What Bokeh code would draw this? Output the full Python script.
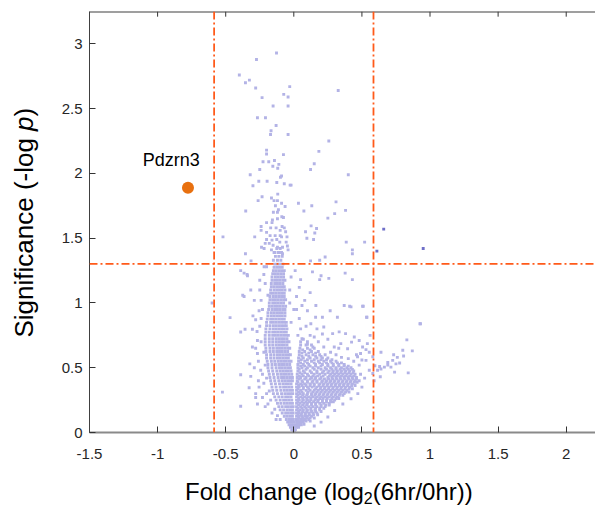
import math
from bokeh.plotting import figure
from bokeh.layouts import row, column
from bokeh.models import Span, FixedTicker, CustomJSTickFormatter, Range1d
from bokeh.core.properties import value
from bokeh.embed import file_html
from bokeh.resources import INLINE

FONT = "Liberation Sans"

# ---------------- data ----------------
fc_cut = 0.585      # log2(1.5)
p_cut = 1.301       # -log10(0.05)

x_ticks = [-1.5, -1, -0.5, 0, 0.5, 1, 1.5, 2]
y_ticks = [0, 0.5, 1, 1.5, 2, 2.5, 3]

x_title = ["Fold change (log", "2", "(6hr/0hr))"]
y_title = ["Significance (-log ", "p", ")"]

# dense body of the volcano, one row per significance level
dense_y = [0.0, 0.02, 0.04, 0.06, 0.08, 0.1, 0.125, 0.15, 0.175, 0.2, 0.225, 0.25, 0.275, 0.3,
           0.325, 0.35, 0.375, 0.4, 0.425, 0.45, 0.475, 0.5, 0.525, 0.55, 0.575, 0.6, 0.625,
           0.65, 0.675, 0.7, 0.725, 0.75, 0.775, 0.8, 0.825, 0.85, 0.875, 0.9, 0.925, 0.95,
           0.975, 1.0, 1.025, 1.05, 1.075, 1.1, 1.125, 1.15, 1.175, 1.2, 1.225, 1.25, 1.275,
           1.3, 1.33, 1.36, 1.39, 1.42]
dense_x = [
    [-0.005, 0.005],
    [-0.015, 0.0, 0.012],
    [-0.025, -0.01, 0.005, 0.02, 0.035],
    [-0.035, -0.02, -0.005, 0.01, 0.025, 0.04, 0.055],
    [-0.045, -0.03, -0.015, 0.0, 0.02, 0.035, 0.05, 0.07],
    [-0.055, -0.035, -0.02, -0.005, 0.015, 0.03, 0.05, 0.065, 0.085, 0.11],
    [-0.07, -0.05, -0.03, -0.01, 0.02, 0.04, 0.06, 0.08, 0.1, 0.13],
    [-0.085, -0.06, -0.04, -0.02, -0.005, 0.02, 0.04, 0.06, 0.085, 0.11, 0.14, 0.17],
    [-0.1, -0.075, -0.05, -0.03, -0.01, 0.02, 0.045, 0.07, 0.1, 0.125, 0.155, 0.19],
    [-0.11, -0.085, -0.06, -0.04, -0.02, -0.005, 0.02, 0.05, 0.08, 0.11, 0.14, 0.17, 0.2, 0.23],
    [-0.12, -0.095, -0.07, -0.05, -0.03, -0.01, 0.02, 0.045, 0.075, 0.1, 0.13, 0.16, 0.19, 0.22, 0.26],
    [-0.13, -0.1, -0.075, -0.055, -0.035, -0.015, 0.02, 0.04, 0.07, 0.1, 0.125, 0.155, 0.18, 0.21, 0.24, 0.27, 0.3],
    [-0.14, -0.11, -0.085, -0.06, -0.04, -0.02, 0.02, 0.05, 0.08, 0.11, 0.14, 0.17, 0.2, 0.23, 0.26, 0.29, 0.32],
    [-0.15, -0.12, -0.09, -0.065, -0.045, -0.025, -0.008, 0.02, 0.045, 0.07, 0.1, 0.13, 0.16, 0.19, 0.22, 0.25, 0.28, 0.31, 0.34, 0.37],
    [-0.155, -0.125, -0.095, -0.07, -0.05, -0.03, -0.01, 0.02, 0.05, 0.09, 0.12, 0.15, 0.18, 0.21, 0.24, 0.27, 0.3, 0.33, 0.36, 0.39],
    [-0.16, -0.13, -0.1, -0.075, -0.055, -0.035, -0.015, 0.02, 0.04, 0.07, 0.1, 0.135, 0.17, 0.2, 0.23, 0.26, 0.29, 0.32, 0.35, 0.38, 0.41],
    [-0.165, -0.135, -0.105, -0.08, -0.06, -0.04, -0.02, 0.02, 0.05, 0.08, 0.12, 0.15, 0.19, 0.22, 0.25, 0.28, 0.31, 0.34, 0.37, 0.4, 0.43],
    [-0.17, -0.14, -0.11, -0.085, -0.065, -0.045, -0.025, -0.01, 0.025, 0.06, 0.1, 0.14, 0.17, 0.21, 0.24, 0.27, 0.3, 0.33, 0.36, 0.39, 0.42, 0.45],
    [-0.175, -0.145, -0.115, -0.09, -0.07, -0.05, -0.03, -0.01, 0.025, 0.05, 0.09, 0.13, 0.16, 0.2, 0.25, 0.28, 0.31, 0.34, 0.37, 0.4, 0.43, 0.46],
    [-0.18, -0.15, -0.12, -0.095, -0.075, -0.055, -0.035, -0.015, 0.025, 0.06, 0.1, 0.15, 0.19, 0.23, 0.27, 0.3, 0.33, 0.36, 0.39, 0.42, 0.45],
    [-0.185, -0.155, -0.125, -0.1, -0.08, -0.06, -0.04, -0.02, 0.03, 0.07, 0.12, 0.17, 0.22, 0.26, 0.29, 0.32, 0.35, 0.38, 0.41, 0.44],
    [-0.19, -0.16, -0.13, -0.105, -0.085, -0.065, -0.045, -0.025, 0.03, 0.06, 0.1, 0.14, 0.18, 0.23, 0.27, 0.31, 0.35, 0.39, 0.42],
    [-0.19, -0.16, -0.135, -0.11, -0.09, -0.07, -0.05, -0.03, 0.03, 0.07, 0.11, 0.16, 0.21, 0.25, 0.29, 0.33, 0.37],
    [-0.195, -0.165, -0.14, -0.115, -0.095, -0.075, -0.055, -0.035, -0.02, 0.035, 0.08, 0.13, 0.18, 0.22, 0.27, 0.31],
    [-0.2, -0.17, -0.145, -0.12, -0.1, -0.08, -0.06, -0.04, 0.035, 0.07, 0.12, 0.17, 0.21, 0.25],
    [-0.2, -0.17, -0.145, -0.12, -0.1, -0.08, -0.06, -0.04, -0.025, 0.04, 0.09, 0.14, 0.19, 0.23],
    [-0.205, -0.175, -0.15, -0.125, -0.105, -0.085, -0.065, -0.045, 0.04, 0.08, 0.13, 0.18],
    [-0.205, -0.175, -0.15, -0.125, -0.105, -0.085, -0.065, -0.045, -0.03, 0.045, 0.1, 0.15],
    [-0.21, -0.18, -0.155, -0.13, -0.11, -0.09, -0.07, -0.05, 0.05, 0.09, 0.13],
    [-0.21, -0.18, -0.155, -0.13, -0.11, -0.09, -0.07, -0.05, -0.035, 0.05, 0.1],
    [-0.21, -0.18, -0.155, -0.13, -0.11, -0.09, -0.07, -0.05, 0.06],
    [-0.21, -0.18, -0.155, -0.135, -0.115, -0.095, -0.075, -0.055, -0.04],
    [-0.205, -0.18, -0.155, -0.135, -0.115, -0.095, -0.075, -0.055],
    [-0.205, -0.175, -0.15, -0.13, -0.11, -0.09, -0.07, -0.05],
    [-0.2, -0.175, -0.15, -0.13, -0.11, -0.09, -0.07, -0.055],
    [-0.2, -0.17, -0.15, -0.13, -0.11, -0.09, -0.07, -0.055],
    [-0.195, -0.17, -0.15, -0.13, -0.11, -0.09, -0.07],
    [-0.19, -0.165, -0.145, -0.125, -0.105, -0.085, -0.065],
    [-0.19, -0.165, -0.145, -0.125, -0.105, -0.085, -0.065],
    [-0.185, -0.16, -0.14, -0.12, -0.1, -0.08, -0.065],
    [-0.18, -0.16, -0.14, -0.12, -0.1, -0.08, -0.06],
    [-0.18, -0.155, -0.135, -0.115, -0.095, -0.075],
    [-0.175, -0.155, -0.135, -0.115, -0.095, -0.075, -0.06],
    [-0.175, -0.15, -0.13, -0.11, -0.09, -0.07],
    [-0.17, -0.15, -0.13, -0.11, -0.09, -0.07],
    [-0.17, -0.145, -0.125, -0.105, -0.085, -0.065],
    [-0.165, -0.145, -0.125, -0.105, -0.085, -0.07],
    [-0.165, -0.14, -0.12, -0.1, -0.08],
    [-0.16, -0.14, -0.12, -0.1, -0.08, -0.065],
    [-0.16, -0.135, -0.115, -0.095, -0.075],
    [-0.155, -0.135, -0.115, -0.095, -0.075],
    [-0.15, -0.13, -0.11, -0.09, -0.07],
    [-0.145, -0.125, -0.105, -0.085],
    [-0.14, -0.12, -0.1, -0.08],
    [-0.15, -0.12, -0.095],
    [-0.135, -0.11, -0.085],
    [-0.14, -0.115, -0.09],
    [-0.125, -0.1],
]

# in-between rows of the up-regulated (right) arm
arm_y = [0.0625, 0.0875, 0.1125, 0.1375, 0.1625, 0.1875, 0.2125, 0.2375, 0.2625, 0.2875,
         0.3125, 0.3375, 0.3625, 0.3875, 0.4125, 0.4375, 0.4625, 0.4875, 0.5125, 0.5375,
         0.5625, 0.5875, 0.6125, 0.6375]
arm_x = [
    [0.03, 0.05, 0.075],
    [0.03, 0.06, 0.09, 0.12],
    [0.035, 0.065, 0.095, 0.12, 0.15],
    [0.03, 0.055, 0.085, 0.115, 0.145, 0.175],
    [0.035, 0.065, 0.095, 0.13, 0.16, 0.2],
    [0.03, 0.06, 0.09, 0.125, 0.16, 0.19, 0.22],
    [0.035, 0.065, 0.095, 0.13, 0.16, 0.2, 0.235, 0.26],
    [0.03, 0.06, 0.09, 0.115, 0.145, 0.175, 0.21, 0.24, 0.27, 0.29],
    [0.035, 0.065, 0.095, 0.125, 0.16, 0.19, 0.215, 0.245, 0.28, 0.31, 0.33],
    [0.03, 0.065, 0.095, 0.13, 0.155, 0.185, 0.215, 0.245, 0.275, 0.305, 0.335, 0.36],
    [0.035, 0.06, 0.105, 0.14, 0.17, 0.2, 0.23, 0.26, 0.29, 0.32, 0.35, 0.38, 0.405],
    [0.03, 0.07, 0.11, 0.16, 0.195, 0.225, 0.255, 0.285, 0.315, 0.345, 0.375, 0.405, 0.43],
    [0.035, 0.06, 0.09, 0.12, 0.15, 0.185, 0.215, 0.245, 0.275, 0.305, 0.335, 0.365, 0.395, 0.425, 0.45],
    [0.03, 0.065, 0.1, 0.135, 0.17, 0.205, 0.235, 0.265, 0.295, 0.325, 0.355, 0.385, 0.415, 0.445, 0.465],
    [0.04, 0.08, 0.12, 0.155, 0.19, 0.225, 0.255, 0.285, 0.315, 0.345, 0.375, 0.405, 0.435, 0.46],
    [0.04, 0.07, 0.11, 0.14, 0.175, 0.215, 0.26, 0.29, 0.32, 0.35, 0.38, 0.41, 0.44],
    [0.045, 0.08, 0.13, 0.17, 0.21, 0.25, 0.285, 0.315, 0.345, 0.375, 0.405, 0.435],
    [0.04, 0.09, 0.15, 0.2, 0.24, 0.28, 0.31, 0.34, 0.37, 0.4, 0.43],
    [0.05, 0.08, 0.12, 0.16, 0.2, 0.25, 0.29, 0.33, 0.37, 0.4],
    [0.05, 0.1, 0.15, 0.19, 0.24, 0.28, 0.32, 0.35],
    [0.055, 0.1, 0.15, 0.2, 0.24, 0.28],
    [0.06, 0.11, 0.16, 0.2],
    [0.06, 0.11, 0.16],
    [0.065, 0.12],
]

# scattered proteins around the body
sparse_x = [
    -0.127, -0.274, -0.40, -0.355, -0.326, -0.28, -0.233, -0.152, -0.03, -0.074, -0.042, -0.042, 0.326,
    -0.267, -0.208, -0.13, -0.167, -0.171, -0.042, 0.257, 0.184, -0.20, -0.20, -0.076, -0.142, -0.184,
    -0.226, -0.11, -0.154, -0.118, 0.15, 0.123, -0.25, -0.32, -0.09, -0.098, 0.40, -0.257, -0.30, -0.196,
    -0.125, -0.07, -0.027, -0.02, -0.233, -0.262, -0.164, -0.118, -0.145, -0.12, -0.09, 0.034, 0.132, 0.31,
    -0.064, -0.135, -0.353, 0.074, -0.113, -0.12, -0.15, 0.38, 0.30, 0.25, -0.088, -0.076, -0.12, -0.157,
    -0.2, -0.16, 0.127, 0.167, -0.086, -0.07, -0.24, -0.17, -0.13, -0.1, -0.06, -0.2, -0.24, 0.086, 0.154,
    -0.174, -0.137, -0.1, -0.09, -0.05, -0.287, -0.52, 0.096, 0.145, -0.2, -0.16, -0.125, -0.103, -0.056,
    0.385, 0.52, -0.18, -0.21, -0.152, -0.12, -0.083, -0.237, -0.218, -0.047, -0.042, 0.43, -0.164, -0.145,
    -0.108, -0.083, -0.355, 0.43, 0.23, 0.19, 0.123, -0.314,
    -0.39, -0.343, -0.365, -0.34, -0.218, -0.25, -0.316, -0.375, -0.365, -0.29, -0.6, -0.255, -0.468, -0.28,
    -0.358, -0.304, -0.39, -0.267, -0.304, -0.267, -0.323, -0.243, -0.39, -0.316, -0.255, -0.328, -0.524,
    -0.28, -0.28, -0.267, -0.39,
    -0.23, -0.25, -0.24, -0.26, -0.23, -0.22, -0.2, -0.19, -0.16, -0.13, -0.25, -0.22, -0.21, -0.24, -0.22,
    -0.21, -0.2, -0.18, -0.27, -0.28, -0.24, -0.2, -0.19, -0.17, -0.14, -0.12, -0.1, -0.3, -0.29, -0.26,
    -0.23, -0.21,
    0.137, 0.377, 0.43, 0.20, 0.257, 0.05, 0.19,
    0.42, 0.51, 0.537, 0.162, 0.37, 0.41, 0.505, 0.10, 0.16, 0.21, 0.267, 0.32, 0.22, 0.285, 0.38, 0.444,
    0.424, 0.505, 0.53, 0.49, 0.554, 0.345, 0.297, 0.395, 0.333, 0.21, 0.15, 0.125, 0.58, 0.468, 0.534,
    0.48, 0.54, 0.53, 0.554,
    0.03, 0.05, 0.04, 0.07, 0.02, 0.06, 0.1, 0.12, 0.09, 0.14, 0.18, 0.17, 0.22, 0.25, 0.27, 0.31, 0.35,
    0.4, 0.33, 0.44, 0.48, 0.46, 0.5, 0.02, 0.04, 0.08, 0.12, -0.03, -0.02, 0.0, -0.02, -0.03, 0.01,
    0.56, 0.93, 0.83, 0.87, 0.80, 0.64, 0.806, 0.733, 0.76, 0.777, 0.75, 0.726, 0.713, 0.74, 0.84, 0.69,
    0.69, 0.665, 0.64, 0.615, 0.635, 0.595, 0.63, 0.58, 0.59, 0.926,
    0.2, 0.25, 0.3, 0.36, 0.42, 0.47, 0.15, 0.5, 0.52, 0.49, 0.48,
]
sparse_y = [
    2.93, 2.88, 2.76, 2.70, 2.72, 2.66, 2.585, 2.52, 2.67, 2.61, 2.59, 2.52, 2.64,
    2.43, 2.43, 2.37, 2.33, 2.30, 2.30, 2.25, 2.17, 2.18, 2.15, 2.145, 2.10, 2.09,
    2.09, 2.07, 2.055, 2.04, 2.075, 2.03, 2.03, 1.99, 1.98, 1.97, 1.99, 1.94, 1.905, 1.94,
    1.93, 1.92, 1.91, 1.91, 1.82, 1.79, 1.81, 1.84, 1.79, 1.79, 1.77, 1.77, 1.75, 1.78,
    1.745, 1.75, 1.71, 1.71, 1.72, 1.70, 1.70, 1.715, 1.69, 1.655, 1.665, 1.66, 1.65, 1.64,
    1.62, 1.62, 1.595, 1.575, 1.59, 1.58, 1.59, 1.58, 1.58, 1.56, 1.55, 1.545, 1.56, 1.55, 1.54,
    1.52, 1.52, 1.52, 1.51, 1.51, 1.51, 1.51, 1.50, 1.49, 1.49, 1.485, 1.49, 1.47, 1.47,
    1.47, 1.47, 1.46, 1.46, 1.446, 1.43, 1.43, 1.43, 1.42, 1.44, 1.41, 1.41, 1.41, 1.39,
    1.39, 1.38, 1.38, 1.38, 1.355, 1.33, 1.325, 1.325,
    1.25, 1.22, 1.23, 1.21, 1.28, 1.175, 1.1, 1.06, 1.05, 1.02, 1.0, 0.94, 0.887, 0.87,
    0.797, 0.797, 0.776, 0.71, 0.66, 0.61, 0.53, 0.48, 0.446, 0.433, 0.35, 0.346, 0.312,
    0.3, 0.27, 0.22, 0.203,
    0.95, 0.82, 0.7, 0.55, 0.45, 0.38, 0.3, 0.22, 0.15, 0.1, 1.1, 1.22, 1.15, 1.02, 0.62,
    0.52, 0.42, 0.32, 0.78, 0.65, 0.88, 1.28, 1.06, 0.25, 0.18, 0.13, 0.1, 0.9, 0.5, 0.4,
    0.27, 0.2,
    1.24, 1.23, 1.18, 1.21, 1.19, 1.18, 1.18,
    0.97, 0.975, 0.89, 0.98, 0.98, 0.975, 0.975, 0.94, 0.89, 0.89, 0.94, 0.89, 0.815, 0.763, 0.763, 0.737,
    0.698, 0.66, 0.64, 0.61, 0.62, 0.686, 0.66, 0.647, 0.777, 0.76, 0.737, 0.84, 0.585, 0.585, 0.89,
    0.71, 0.686, 0.557, 0.48,
    0.75, 0.8, 0.88, 0.72, 0.95, 0.98, 0.68, 0.75, 0.82, 0.66, 0.7, 0.8, 0.66, 0.72, 0.62, 0.6, 0.58,
    0.57, 0.65, 0.55, 0.52, 0.6, 0.56, 1.05, 1.12, 1.02, 1.08, 1.1, 1.2, 0.95, 0.85, 1.0, 1.25,
    0.75, 0.84, 0.715, 0.63, 0.635, 0.62, 0.59, 0.60, 0.58, 0.536, 0.53, 0.557, 0.505, 0.466, 0.46, 0.54,
    0.52, 0.505, 0.49, 0.48, 0.43, 0.515, 0.51, 0.455, 0.40, 0.84,
    0.08, 0.12, 0.17, 0.22, 0.26, 0.3, 0.05, 0.35, 0.42, 0.45, 0.4,
]

# significant proteins (past both cut-offs)
hit_x = [0.66, 0.61, 0.95]
hit_y = [1.57, 1.40, 1.42]

# highlighted gene
gene_x = [-0.777]
gene_y = [1.89]
gene_label = ["Pdzrn3"]

# ---------------- build ----------------
body_x, body_y = [], []
for rows_y, rows_x in ((dense_y, dense_x), (arm_y, arm_x)):
    for yy, rw in zip(rows_y, rows_x):
        for xx in rw:
            body_x.append(xx)
            body_y.append(yy)
all_x = body_x + sparse_x
all_y = body_y + sparse_y

YLAB_W = 50      # strip at left holding the y title
MAIN_H = 470     # main plot height; strip below holds the x title
TOTAL_W, TOTAL_H = 595, 506
B_LEFT, B_TOP, B_BOTTOM = 39, 11, 38   # borders of the main plot (frame: x 89..595, y 11..432)
Y_TOP = 3.25

p = figure(width=TOTAL_W - YLAB_W, height=MAIN_H,
           x_range=Range1d(-1.5, 2.215), y_range=Range1d(0, Y_TOP),
           output_backend="svg", toolbar_location=None,
           min_border_left=B_LEFT, min_border_right=0, min_border_top=B_TOP,
           min_border_bottom=B_BOTTOM)
p.grid.visible = False
p.outline_line_color = None
p.background_fill_color = "white"
p.border_fill_color = "white"

fmt = CustomJSTickFormatter(code="return tick.toString();")
xa = p.xaxis[0]
xa.ticker = FixedTicker(ticks=x_ticks)
xa.formatter = fmt
ya = p.yaxis[0]
ya.ticker = FixedTicker(ticks=y_ticks)
ya.formatter = fmt
for ax in (xa, ya):
    ax.major_tick_in = 6
    ax.major_tick_out = 0
    ax.minor_tick_line_color = None
    ax.major_tick_line_color = "#333333"
    ax.major_label_text_font = FONT
    ax.major_label_text_font_size = "15px"
    ax.major_label_text_color = "#262626"
xa.axis_line_color = "#8a8a8a"
xa.axis_line_width = 2
xa.major_label_standoff = 16
ya.axis_line_color = "#404040"
ya.major_label_standoff = 7

# top edge of the box with inward ticks
p.add_layout(Span(location=Y_TOP, dimension="width", line_color="#404040", line_width=2))
p.segment(x0=x_ticks, y0=[Y_TOP] * len(x_ticks), x1=x_ticks,
          y1=[Y_TOP - 0.04] * len(x_ticks), line_color="#333333", line_width=1)

p.scatter(all_x, all_y, marker="square", size=2.9, fill_color="#b3b3e6", line_color=None)
p.scatter(hit_x, hit_y, marker="square", size=2.9, fill_color="#6f6fc8", line_color=None)

dash_col = "#ff5a1a"
for xv in (-fc_cut, fc_cut):
    p.add_layout(Span(location=xv, dimension="height", line_color=dash_col, line_width=1.8,
                      line_dash="8 3 2 3"))
p.add_layout(Span(location=p_cut, dimension="width", line_color=dash_col, line_width=1.8,
                  line_dash="8 3 2 3"))

p.scatter(gene_x, gene_y, size=12, fill_color="#e8700f", line_color=None)
p.text([gene_x[0] - 0.122], [gene_y[0] + 0.215], text=gene_label, text_font=value(FONT),
       text_font_size="18px", text_align="center", text_baseline="alphabetic", text_color="#000000")


def strip(w, h, x_range, y_range, **borders):
    f = figure(width=w, height=h, x_range=x_range, y_range=y_range,
               output_backend="svg", toolbar_location=None,
               x_axis_location=None, y_axis_location=None, **borders)
    f.grid.visible = False
    f.outline_line_color = None
    f.background_fill_color = "white"
    f.border_fill_color = "white"
    return f


# y title strip: frame spans the strip width and page rows 11..506 (value = 506 - page y)
ylab = strip(YLAB_W, TOTAL_H, Range1d(0, YLAB_W), Range1d(0, TOTAL_H - B_TOP),
             min_border_left=0, min_border_right=0, min_border_top=B_TOP, min_border_bottom=0)
ytxt = dict(angle=math.pi / 2, text_font=value(FONT), text_font_size="26px", text_align="left",
            text_baseline="alphabetic", text_color="#000000")
ylab.text([23.5], [169.0], text=[y_title[0]], **ytxt)
ylab.text([23.5], [375.6], text=[y_title[1]], text_font_style="italic", **ytxt)
ylab.text([23.5], [390.1], text=[y_title[2]], **ytxt)

# x title strip: frame spans page columns 89..595 (x = page x) and rows 470..506
xlab = strip(TOTAL_W - YLAB_W, TOTAL_H - MAIN_H, Range1d(YLAB_W + B_LEFT, TOTAL_W),
             Range1d(0, TOTAL_H - MAIN_H),
             min_border_left=B_LEFT, min_border_right=0, min_border_top=0, min_border_bottom=0)
xtxt = dict(text_font=value(FONT), text_align="left", text_baseline="alphabetic",
            text_color="#000000")
xlab.text([184.5], [15.0], text=[x_title[0]], text_font_size="24px", **xtxt)
xlab.text([363.3], [9.0], text=[x_title[1]], text_font_size="16px", **xtxt)
xlab.text([372.2], [15.0], text=[x_title[2]], text_font_size="24px", **xtxt)

layout = row(ylab, column(p, xlab, spacing=0), spacing=0)
open("out.html", "w").write(file_html(layout, INLINE))
